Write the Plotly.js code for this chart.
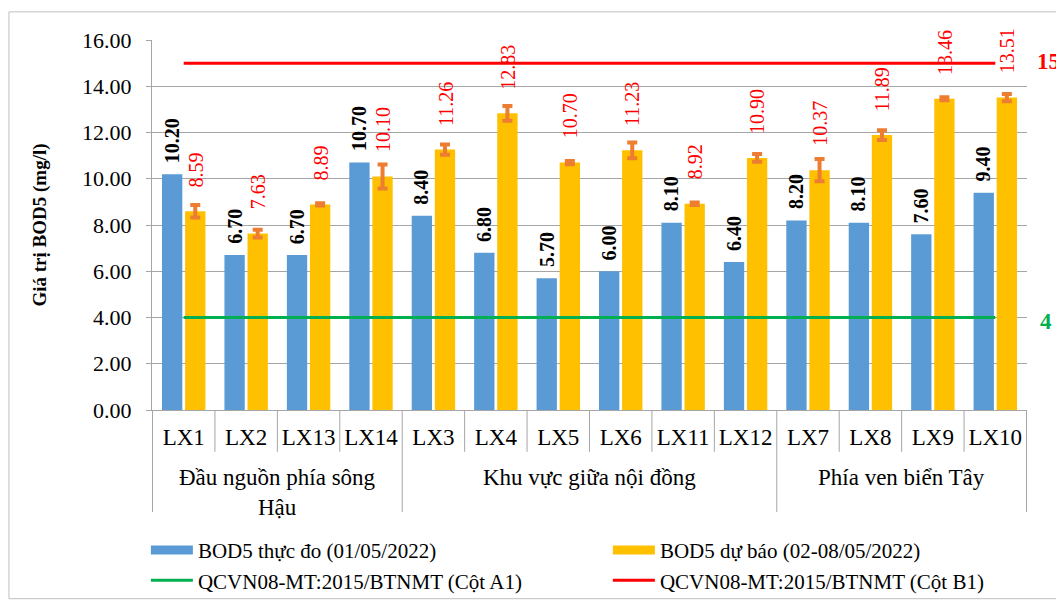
<!DOCTYPE html>
<html>
<head>
<meta charset="utf-8">
<script src="https://cdn.plot.ly/plotly-3.0.1.min.js"></script>
<style>html,body{margin:0;padding:0;background:#fff;}#chart{width:1056px;height:609px;}</style>
</head>
<body>
<div id="chart"></div>
<script>
// ---- data ----
const categories = ['LX1','LX2','LX13','LX14','LX3','LX4','LX5','LX6','LX11','LX12','LX7','LX8','LX9','LX10'];
const groupNames = ['Đầu nguồn phía sông<br>Hậu', 'Khu vực giữa nội đồng', 'Phía ven biển Tây'];
const groupSizes = [4, 6, 4];
const measured = [10.20, 6.70, 6.70, 10.70, 8.40, 6.80, 5.70, 6.00, 8.10, 6.40, 8.20, 8.10, 7.60, 9.40];
const forecast = [8.59, 7.63, 8.89, 10.10, 11.26, 12.83, 10.70, 11.23, 8.92, 10.90, 10.37, 11.89, 13.46, 13.51];
const forecastErr = [0.27, 0.17, 0.05, 0.52, 0.22, 0.32, 0.07, 0.34, 0.05, 0.17, 0.48, 0.21, 0.06, 0.16];
const limitA1 = 4;
const limitB1 = 15;
const seriesNames = ['BOD5 thực đo (01/05/2022)', 'BOD5 dự báo (02-08/05/2022)',
                     'QCVN08-MT:2015/BTNMT (Cột A1)', 'QCVN08-MT:2015/BTNMT (Cột B1)'];

// ---- style ----
const FONT = '"Liberation Serif", "Times New Roman", serif';
const BLUE = '#5B9BD5', YELLOW = '#FFC000', ORANGE = '#ED7D31', RED = '#FF0000', GREEN = '#00B050';
const GRID = '#A6A6A6';

const traces = [
  {type:'bar', x:categories, y:measured, name:seriesNames[0], marker:{color:BLUE}, showlegend:false, hoverinfo:'y'},
  {type:'bar', x:categories, y:forecast, name:seriesNames[1], marker:{color:YELLOW}, showlegend:false, hoverinfo:'y',
   error_y:{type:'data', array:forecastErr, visible:true, color:ORANGE, thickness:4, width:5}},
  {type:'scatter', mode:'lines', x:[null], y:[null], name:seriesNames[0], line:{color:BLUE, width:9}, legendrank:1},
  {type:'scatter', mode:'lines', x:[null], y:[null], name:seriesNames[1], line:{color:YELLOW, width:9}, legendrank:2},
  {type:'scatter', mode:'lines', x:categories, y:categories.map(() => limitA1), name:seriesNames[2],
   line:{color:GREEN, width:3}, legendrank:3, hoverinfo:'y'},
  {type:'scatter', mode:'lines', x:categories, y:categories.map(() => limitB1), name:seriesNames[3],
   line:{color:RED, width:3}, legendrank:4, hoverinfo:'y'}
];

const annotations = [];
categories.forEach((c, i) => {
  annotations.push({xref:'x', yref:'y', x:i, y:measured[i], text:measured[i].toFixed(2), showarrow:false,
    textangle:-90, xanchor:'center', yanchor:'bottom', xshift:-12, yshift:9,
    font:{family:FONT, size:20, color:'#000', weight:'bold'}});
  annotations.push({xref:'x', yref:'y', x:i, y:forecast[i], text:forecast[i].toFixed(2), showarrow:false,
    textangle:-90, xanchor:'center', yanchor:'bottom', xshift:12, yshift:22,
    font:{family:FONT, size:20, color:RED}});
});
// group labels
let start = 0;
groupNames.forEach((g, k) => {
  const end = start + groupSizes[k] - 1;
  annotations.push({xref:'x', yref:'paper', x:(start + end) / 2, y:-0.142, yanchor:'top', text:g, showarrow:false,
    font:{family:FONT, size:23, color:'#000'}});
  start += groupSizes[k];
});
// limit values labels
annotations.push({xref:'paper', yref:'y', x:1.009, y:limitB1, xanchor:'left', yanchor:'middle', text:String(limitB1),
  showarrow:false, yshift:2, font:{family:FONT, size:23, color:RED, weight:'bold'}});
annotations.push({xref:'paper', yref:'y', x:1.012, y:limitA1, xanchor:'left', yanchor:'middle', text:String(limitA1),
  showarrow:false, yshift:-4, font:{family:FONT, size:23, color:GREEN, weight:'bold'}});

// category dividers
const shapes = [];
const groupBounds = [0];
groupSizes.forEach(s => groupBounds.push(groupBounds[groupBounds.length - 1] + s));
for (let i = 0; i <= categories.length; i++) {
  const isGroup = groupBounds.includes(i);
  shapes.push({type:'line', xref:'x', yref:'paper', x0:i - 0.5, x1:i - 0.5, y0:0, y1:isGroup ? -0.276 : -0.113,
    line:{color:GRID, width:1}});
}
// outer frame
shapes.push({type:'rect', xref:'paper', yref:'paper', x0:-0.1635, x1:1.1, y0:-0.51, y1:1.076,
  line:{color:'#BFBFBF', width:1}, fillcolor:'rgba(0,0,0,0)', layer:'below'});

const layout = {
  width:1056, height:609,
  margin:{l:152, r:29, t:40, b:199, autoexpand:false},
  paper_bgcolor:'#fff', plot_bgcolor:'#fff',
  font:{family:FONT, size:21, color:'#000'},
  barmode:'group', bargap:0.26, bargroupgap:0.12,
  xaxis:{type:'category', categoryorder:'array', categoryarray:categories, showline:true, linecolor:GRID,
    ticks:'', showgrid:false, tickfont:{family:FONT, size:23, color:'#000'}, ticklabelstandoff:6, fixedrange:true},
  yaxis:{range:[0,16], dtick:2, tickformat:'.2f', showgrid:true, gridcolor:GRID, gridwidth:1, zeroline:false,
    showline:true, linecolor:GRID, ticks:'outside', ticklen:5, tickcolor:GRID, ticklabelstandoff:10,
    tickfont:{family:FONT, size:22, color:'#000'},
    title:{text:'Giá trị BOD5 (mg/l)', font:{family:FONT, size:19, color:'#000', weight:'bold'}, standoff:30}},
  legend:{orientation:'h', x:-0.007, xanchor:'left', y:-0.324, yanchor:'top', entrywidth:405, entrywidthmode:'pixels',
    itemwidth:42, font:{family:FONT, size:21, color:'#000'}, bgcolor:'rgba(0,0,0,0)', traceorder:'normal'},
  annotations:annotations,
  shapes:shapes,
  showlegend:true
};

Plotly.newPlot('chart', traces, layout, {displayModeBar:false, staticPlot:true});
</script>
</body>
</html>
